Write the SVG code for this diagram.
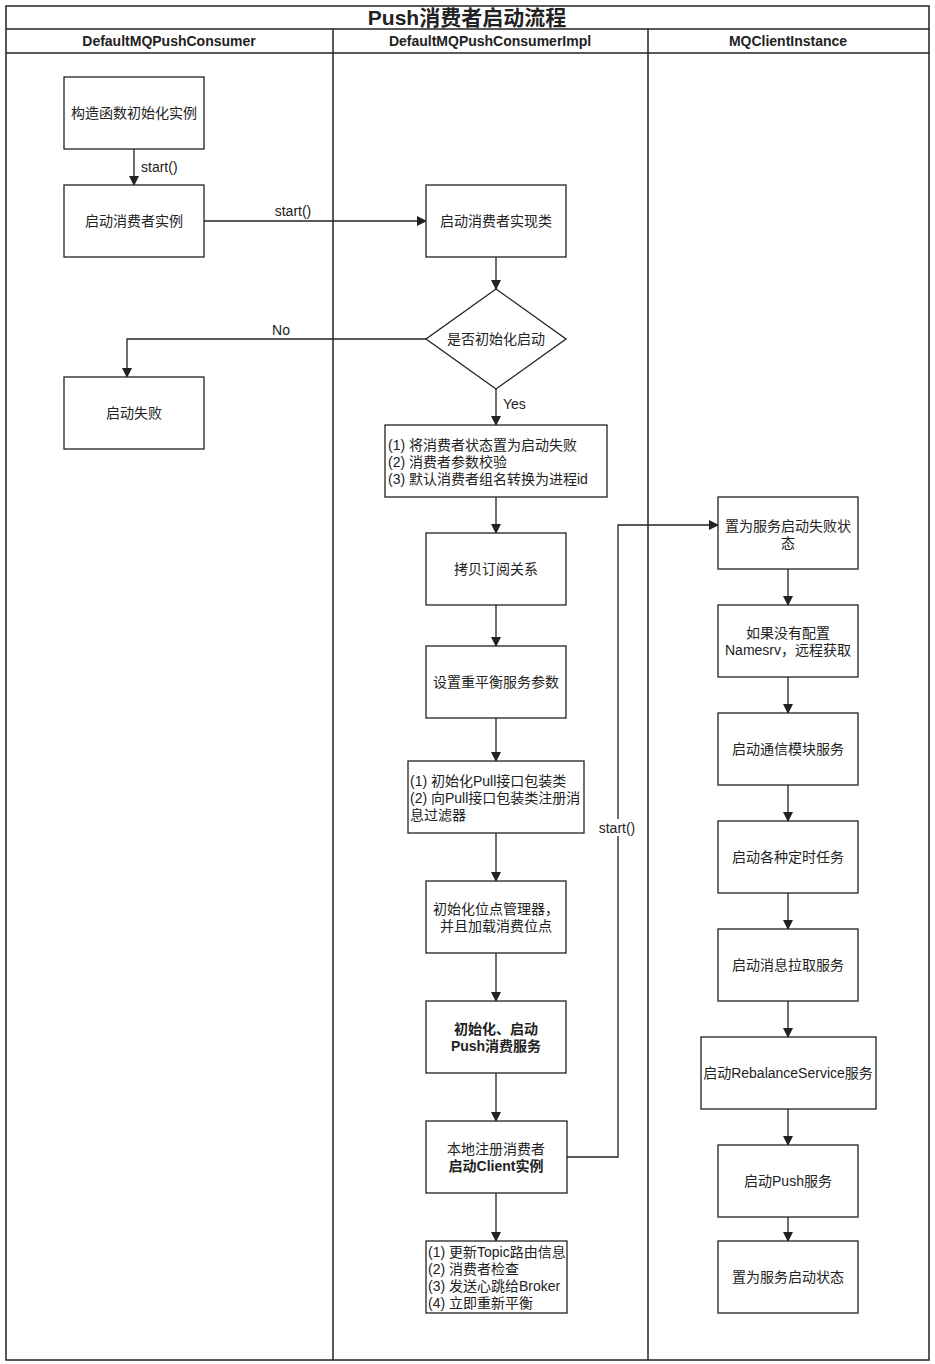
<svg xmlns="http://www.w3.org/2000/svg" width="935" height="1364" viewBox="0 0 935 1364">
<defs>
<style>
.pool{fill:none;stroke:#222;stroke-width:1.5}
.node{fill:#fff;stroke:#222;stroke-width:1.3}
.t{font-family:"Liberation Sans","Noto Sans CJK SC",sans-serif;font-size:14px;fill:#222}
.c{text-anchor:middle}
.b{font-weight:bold}
.edge{fill:none;stroke:#222;stroke-width:1.3;marker-end:url(#arr)}
</style>
<marker id="arr" viewBox="0 0 10 10" refX="9" refY="5" markerWidth="10" markerHeight="10" markerUnits="userSpaceOnUse" orient="auto">
<path d="M0,0 L10,5 L0,10 Z" fill="#222"/>
</marker>
</defs>
<rect width="935" height="1364" fill="#fff"/>
<g id="pool">
<rect class="pool" x="6" y="6" width="923" height="1354"/>
<line class="pool" x1="6" y1="29" x2="929" y2="29"/>
<line class="pool" x1="6" y1="53" x2="929" y2="53"/>
<line class="pool" x1="333" y1="29" x2="333" y2="1360"/>
<line class="pool" x1="648" y1="29" x2="648" y2="1360"/>
<text class="t c b" x="467" y="25" style="font-size:21px">Push消费者启动流程</text>
<text class="t c b" x="169" y="46">DefaultMQPushConsumer</text>
<text class="t c b" x="490" y="46">DefaultMQPushConsumerImpl</text>
<text class="t c b" x="788" y="46">MQClientInstance</text>
</g>
<g id="connectors">
<line class="edge" x1="134" y1="149" x2="134" y2="185"/>
<text class="t" x="141" y="172">start()</text>
<line class="edge" x1="204" y1="221" x2="426" y2="221"/>
<text class="t c" x="293" y="216">start()</text>
<line class="edge" x1="496" y1="257" x2="496" y2="289"/>
<polyline class="edge" points="426,339 127,339 127,377"/>
<text class="t c" x="281" y="335">No</text>
<line class="edge" x1="496" y1="389" x2="496" y2="425"/>
<text class="t" x="503" y="409">Yes</text>
<line class="edge" x1="496" y1="497" x2="496" y2="533"/>
<line class="edge" x1="496" y1="605" x2="496" y2="646"/>
<line class="edge" x1="496" y1="718" x2="496" y2="761"/>
<line class="edge" x1="496" y1="833" x2="496" y2="881"/>
<line class="edge" x1="496" y1="953" x2="496" y2="1001"/>
<line class="edge" x1="496" y1="1073" x2="496" y2="1121"/>
<line class="edge" x1="496" y1="1193" x2="496" y2="1241"/>
<polyline class="edge" points="567,1157 618,1157 618,525 718,525"/>
<rect x="595" y="819" width="44" height="17" fill="#fff"/>
<text class="t c" x="617" y="833">start()</text>
<line class="edge" x1="788" y1="569" x2="788" y2="605"/>
<line class="edge" x1="788" y1="677" x2="788" y2="713"/>
<line class="edge" x1="788" y1="785" x2="788" y2="821"/>
<line class="edge" x1="788" y1="893" x2="788" y2="929"/>
<line class="edge" x1="788" y1="1001" x2="788" y2="1037"/>
<line class="edge" x1="788" y1="1109" x2="788" y2="1145"/>
<line class="edge" x1="788" y1="1217" x2="788" y2="1241"/>
</g>
<g id="n1"><rect class="node" x="64" y="77" width="140" height="72"/><text class="t c" x="134" y="118">构造函数初始化实例</text></g>
<g id="n2"><rect class="node" x="64" y="185" width="140" height="72"/><text class="t c" x="134" y="226">启动消费者实例</text></g>
<g id="n3"><rect class="node" x="64" y="377" width="140" height="72"/><text class="t c" x="134" y="418">启动失败</text></g>
<g id="m1"><rect class="node" x="426" y="185" width="140" height="72"/><text class="t c" x="496" y="226">启动消费者实现类</text></g>
<g id="m2"><polygon class="node" points="496,289 566,339 496,389 426,339"/><text class="t c" x="496" y="344">是否初始化启动</text></g>
<g id="m3"><rect class="node" x="385" y="425" width="222" height="72"/>
<text class="t" x="388" y="450">(1) 将消费者状态置为启动失败</text>
<text class="t" x="388" y="467">(2) 消费者参数校验</text>
<text class="t" x="388" y="484">(3) 默认消费者组名转换为进程id</text></g>
<g id="m4"><rect class="node" x="426" y="533" width="140" height="72"/><text class="t c" x="496" y="574">拷贝订阅关系</text></g>
<g id="m5"><rect class="node" x="426" y="646" width="140" height="72"/><text class="t c" x="496" y="687">设置重平衡服务参数</text></g>
<g id="m6"><rect class="node" x="408" y="761" width="176" height="72"/>
<text class="t" x="410" y="786">(1) 初始化Pull接口包装类</text>
<text class="t" x="410" y="803">(2) 向Pull接口包装类注册消</text>
<text class="t" x="410" y="820">息过滤器</text></g>
<g id="m7"><rect class="node" x="426" y="881" width="140" height="72"/>
<text class="t c" x="496" y="914">初始化位点管理器，</text>
<text class="t c" x="496" y="931">并且加载消费位点</text></g>
<g id="m8"><rect class="node" x="426" y="1001" width="140" height="72"/>
<text class="t c b" x="496" y="1034">初始化、启动</text>
<text class="t c b" x="496" y="1051">Push消费服务</text></g>
<g id="m9"><rect class="node" x="426" y="1121" width="141" height="72"/>
<text class="t c" x="496" y="1154">本地注册消费者</text>
<text class="t c b" x="496" y="1171">启动Client实例</text></g>
<g id="m10"><rect class="node" x="426" y="1241" width="141" height="72"/>
<text class="t" x="428" y="1257">(1) 更新Topic路由信息</text>
<text class="t" x="428" y="1274">(2) 消费者检查</text>
<text class="t" x="428" y="1291">(3) 发送心跳给Broker</text>
<text class="t" x="428" y="1308">(4) 立即重新平衡</text></g>
<g id="r1"><rect class="node" x="718" y="497" width="140" height="72"/>
<text class="t c" x="788" y="531">置为服务启动失败状</text>
<text class="t c" x="788" y="548">态</text></g>
<g id="r2"><rect class="node" x="718" y="605" width="140" height="72"/>
<text class="t c" x="788" y="638">如果没有配置</text>
<text class="t c" x="788" y="655">Namesrv，远程获取</text></g>
<g id="r3"><rect class="node" x="718" y="713" width="140" height="72"/><text class="t c" x="788" y="754">启动通信模块服务</text></g>
<g id="r4"><rect class="node" x="718" y="821" width="140" height="72"/><text class="t c" x="788" y="862">启动各种定时任务</text></g>
<g id="r5"><rect class="node" x="718" y="929" width="140" height="72"/><text class="t c" x="788" y="970">启动消息拉取服务</text></g>
<g id="r6"><rect class="node" x="701" y="1037" width="175" height="72"/><text class="t c" x="788" y="1078">启动RebalanceService服务</text></g>
<g id="r7"><rect class="node" x="718" y="1145" width="140" height="72"/><text class="t c" x="788" y="1186">启动Push服务</text></g>
<g id="r8"><rect class="node" x="718" y="1241" width="140" height="72"/><text class="t c" x="788" y="1282">置为服务启动状态</text></g>
</svg>
